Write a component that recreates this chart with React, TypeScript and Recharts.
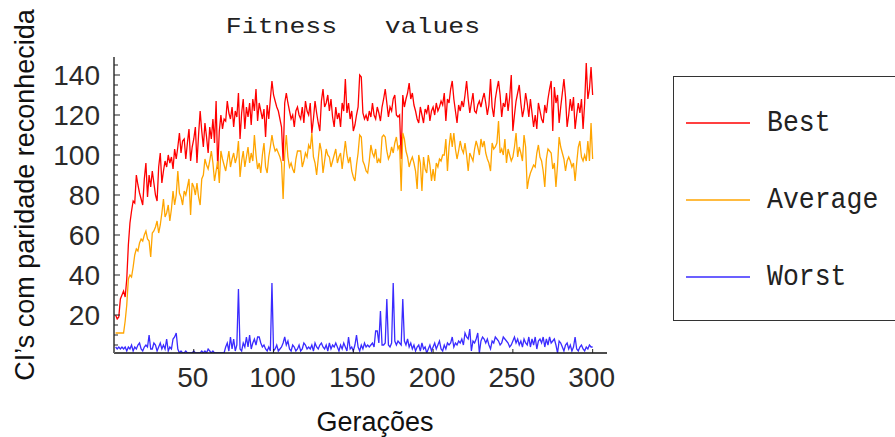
import React from 'react';
import { LineChart, Line, XAxis, YAxis, Legend } from 'recharts';

const generations: number[] = Array.from({ length: 300 }, (_, i) => i + 1);

const best: number[] = [
  20, 18, 19, 28, 30, 32, 29, 38, 55, 66,
  72, 77, 76, 90, 85, 81, 78, 75, 88, 96,
  79, 90, 84, 92, 86, 80, 77, 94, 101, 86,
  92, 97, 94, 100, 96, 99, 93, 103, 98, 104,
  111, 101, 107, 108, 98, 106, 113, 97, 104, 108,
  114, 96, 110, 122, 112, 104, 116, 109, 101, 114,
  108, 118, 106, 127, 93, 112, 120, 113, 118, 117,
  127, 121, 118, 124, 114, 122, 119, 131, 108, 121,
  128, 113, 124, 119, 126, 115, 128, 122, 133, 117,
  126, 122, 118, 123, 109, 125, 118, 128, 137, 130,
  127, 124, 122, 118, 114, 97, 126, 131, 126, 122,
  118, 120, 114, 122, 124, 120, 118, 124, 116, 127,
  122, 120, 126, 111, 118, 127, 121, 116, 112, 127,
  133, 124, 126, 130, 122, 128, 119, 114, 124, 118,
  121, 114, 126, 122, 138, 121, 126, 118, 122, 112,
  115, 120, 124, 140, 139, 121, 118, 120, 117, 122,
  119, 126, 120, 118, 124, 121, 117, 124, 128, 133,
  126, 119, 124, 122, 128, 130, 120, 119, 120, 98,
  130, 124, 128, 131, 136, 128, 131, 125, 122, 118,
  116, 124, 120, 116, 123, 121, 125, 117, 122, 124,
  120, 126, 122, 124, 127, 125, 131, 117, 128, 126,
  133, 137, 128, 122, 116, 125, 122, 127, 124, 130,
  137, 128, 121, 126, 131, 122, 121, 125, 127, 124,
  128, 131, 126, 120, 125, 138, 124, 119, 128, 133,
  137, 130, 119, 126, 124, 131, 122, 129, 140, 112,
  120, 127, 131, 135, 126, 119, 123, 131, 126, 119,
  128, 121, 114, 120, 113, 126, 122, 118, 116, 125,
  121, 128, 133, 137, 112, 134, 126, 130, 116, 124,
  131, 138, 129, 114, 120, 128, 122, 129, 113, 120,
  126, 121, 128, 113, 126, 146, 128, 133, 144, 130,
];

const average: number[] = [
  11, 11, 11, 11, 11, 11, 17, 25, 38, 40,
  39, 44, 50, 53, 52, 56, 58, 57, 60, 62,
  58, 57, 49, 61, 62, 64, 67, 61, 65, 71,
  78, 69, 71, 75, 67, 73, 82, 75, 80, 92,
  81, 79, 75, 82, 80, 84, 88, 70, 86, 84,
  80, 86, 79, 75, 88, 90, 98, 95, 93, 97,
  102, 96, 87, 92, 97, 86, 102, 98, 95, 92,
  97, 102, 94, 98, 101, 96, 99, 107, 89, 97,
  102, 94, 99, 104, 96, 101, 97, 110, 100, 93,
  96, 91, 100, 106, 94, 91, 99, 104, 110, 105,
  102, 103, 101, 99, 96, 78, 100, 110, 99, 94,
  96, 93, 91, 98, 102, 102, 102, 94, 97, 101,
  99, 105, 103, 111, 99, 96, 90, 98, 106, 102,
  91, 97, 103, 100, 99, 94, 97, 100, 103, 96,
  99, 101, 93, 100, 107, 100, 96, 99, 92, 89,
  87, 95, 101, 110, 109, 97, 95, 92, 91, 97,
  105, 101, 99, 103, 96, 98, 96, 109, 110, 109,
  102, 98, 100, 104, 101, 106, 109, 103, 105, 82,
  111, 108, 102, 99, 94, 97, 99, 96, 92, 83,
  100, 96, 82, 99, 93, 91, 100, 95, 87, 93,
  87, 96, 94, 98, 97, 100, 100, 108, 92, 104,
  111, 104, 111, 103, 98, 102, 107, 103, 101, 106,
  100, 92, 101, 99, 97, 103, 107, 104, 100, 108,
  104, 107, 101, 98, 96, 92, 106, 103, 104, 106,
  117, 101, 103, 100, 108, 96, 103, 100, 97, 99,
  104, 111, 99, 104, 101, 97, 110, 104, 83, 88,
  91, 93, 95, 94, 101, 105, 99, 97, 92, 84,
  98, 103, 102, 101, 93, 96, 84, 95, 109, 104,
  101, 98, 92, 97, 99, 97, 94, 96, 87, 96,
  104, 107, 99, 97, 100, 97, 107, 97, 116, 98,
];

const worst: number[] = [
  4, 3, 4, 3, 4, 3, 4, 2, 4, 3,
  5, 2, 4, 3, 5, 6, 3, 2, 4, 5,
  4, 10, 3, 3, 6, 5, 2, 4, 6, 3,
  5, 3, 8, 2, 4, 3, 8, 9, 11, 3,
  1, 2, 1, 1, 2, 1, 1, 1, 1, 2,
  1, 1, 1, 1, 2, 1, 2, 1, 3, 2,
  1, 2, 1, 1, 1, 1, 1, 1, 1, 4,
  6, 2, 9, 3, 8, 2, 5, 33, 3, 2,
  6, 4, 9, 4, 10, 3, 6, 8, 5, 9,
  9, 6, 4, 5, 3, 2, 4, 2, 36, 2,
  3, 5, 2, 3, 4, 6, 9, 5, 7, 3,
  2, 5, 4, 2, 3, 5, 2, 3, 6, 5,
  3, 4, 3, 5, 2, 6, 4, 3, 5, 6,
  4, 3, 5, 2, 6, 3, 5, 4, 6, 4,
  2, 5, 3, 6, 4, 2, 9, 3, 4, 2,
  5, 10, 4, 2, 5, 3, 6, 4, 5, 4,
  5, 6, 4, 12, 12, 6, 22, 5, 5, 6,
  28, 5, 4, 6, 36, 7, 5, 7, 6, 5,
  28, 7, 5, 8, 4, 6, 3, 5, 2, 4,
  5, 2, 6, 3, 4, 1, 3, 5, 2, 4,
  6, 3, 5, 7, 3, 2, 5, 3, 6, 5,
  6, 9, 4, 6, 5, 7, 6, 8, 5, 11,
  9, 8, 13, 2, 7, 6, 8, 11, 1, 7,
  9, 8, 6, 8, 5, 3, 7, 6, 9, 8,
  7, 5, 6, 9, 8, 7, 6, 4, 5, 7,
  9, 6, 8, 5, 7, 4, 8, 6, 5, 9,
  4, 8, 5, 9, 3, 7, 8, 6, 9, 4,
  8, 5, 9, 6, 7, 8, 5, 1, 7, 6,
  4, 2, 5, 6, 3, 5, 2, 4, 9, 3,
  2, 4, 5, 3, 2, 4, 3, 5, 4, 4,
];

const seriesNames: string[] = ['Best', 'Average', 'Worst'];
const seriesColors: string[] = ['#ff0000', '#ffa500', '#3a2bff'];
const seriesValues: number[][] = [best, average, worst];

const xTicks: number[] = [50, 100, 150, 200, 250, 300];
const yMajorTicks: number[] = [20, 40, 60, 80, 100, 120, 140];
const yAllTicks: number[] = [5, 10, 15, 20, 25, 30, 35, 40, 45, 50, 55, 60, 65, 70, 75, 80, 85, 90, 95, 100, 105, 110, 115, 120, 125, 130, 135, 140, 145];

const titleText = 'Fitness   values';
const xTitle = 'Gerações';
const yTitle = 'CI’s com paridade reconhecida';

const data = generations.map((g, i) => {
  const row: Record<string, number> = { gen: g };
  seriesNames.forEach((name, k) => {
    row[name] = seriesValues[k][i];
  });
  return row;
});

const SANS = '"Liberation Sans", Arial, sans-serif';
const MONO = '"Liberation Mono", "Courier New", monospace';

const YTick = (props: any) => {
  const { x, y, payload } = props;
  const major = yMajorTicks.includes(payload.value);
  return (
    <g>
      <line x1={x} x2={x + (major ? 6 : 4)} y1={y} y2={y} stroke="#222" strokeWidth={1} />
      {major && (
        <text x={x - 14} y={y} dy="0.36em" textAnchor="end" fontFamily={SANS} fontSize={28} fill="#2a2a2a">
          {payload.value}
        </text>
      )}
    </g>
  );
};

const XTick = (props: any) => {
  const { x, y, payload } = props;
  return (
    <g>
      <line x1={x} x2={x} y1={y} y2={y - 4} stroke="#222" strokeWidth={1} />
      <text x={x - 1} y={y + 34} textAnchor="middle" fontFamily={SANS} fontSize={28} fill="#2a2a2a">
        {payload.value}
      </text>
    </g>
  );
};

const LegendBox = (props: any) => {
  const payload: any[] = [...(props.payload || [])].sort(
    (a, b) => seriesNames.indexOf(a.value) - seriesNames.indexOf(b.value)
  );
  const rows = [47, 124, 201];
  return (
    <svg width={240} height={246} style={{ display: 'block' }}>
      <rect x={0.5} y={0.5} width={260} height={244} fill="#fff" stroke="#333" strokeWidth={1} />
      {payload.map((p, i) => (
        <g key={p.value}>
          <line x1={13} x2={77} y1={rows[i]} y2={rows[i]} stroke={p.color} strokeWidth={1.3} />
          <text
            transform={`translate(94,${rows[i] + 8}) scale(1,1.08)`}
            fontFamily={MONO}
            fontSize={26.5}
            fill="#222"
          >
            {p.value}
          </text>
        </g>
      ))}
    </svg>
  );
};

export default function App() {
  return (
    <div style={{ position: 'absolute', left: 0, top: 0, width: 895, height: 437, overflow: 'hidden', background: '#fff' }}>
      <LineChart
        width={895}
        height={437}
        data={data}
        margin={{ top: 57, right: 288, bottom: 0, left: 14 }}
      >
        <XAxis
          type="number"
          dataKey="gen"
          domain={[0, 309]}
          ticks={xTicks}
          interval={0}
          allowDataOverflow
          height={84}
          tickSize={0}
          tickMargin={0}
          tick={<XTick />}
          axisLine={{ stroke: '#111', strokeWidth: 1.5 }}
        />
        <YAxis
          type="number"
          domain={[1, 149]}
          ticks={yAllTicks}
          interval={0}
          allowDataOverflow
          width={100}
          tickSize={0}
          tickMargin={0}
          tick={<YTick />}
          axisLine={{ stroke: '#666', strokeWidth: 2 }}
        />
        {seriesNames.map((name, k) => (
          <Line
            key={name}
            type="linear"
            dataKey={name}
            name={name}
            stroke={seriesColors[k]}
            strokeWidth={1.3}
            dot={false}
            isAnimationActive={false}
          />
        ))}
        <Legend
          layout="vertical"
          align="center"
          verticalAlign="middle"
          content={<LegendBox />}
          wrapperStyle={{ position: 'absolute', left: 673, top: 76, width: 240, height: 246 }}
        />
      </LineChart>
      <svg
        width={895}
        height={437}
        style={{ position: 'absolute', left: 0, top: 0, pointerEvents: 'none' }}
      >
        <text
          transform="translate(353,33) scale(1,0.85)"
          textAnchor="middle"
          fontFamily={MONO}
          fontSize={26.5}
          fill="#222"
          style={{ whiteSpace: 'pre' }}
        >
          {titleText}
        </text>
        <text x={375} y={431} textAnchor="middle" fontFamily={SANS} fontSize={27} fill="#111">
          {xTitle}
        </text>
        <text transform="translate(34,195) rotate(-90)" x={0} y={0} textAnchor="middle" fontFamily={SANS} fontSize={27} fill="#111">
          {yTitle}
        </text>
      </svg>
    </div>
  );
}
